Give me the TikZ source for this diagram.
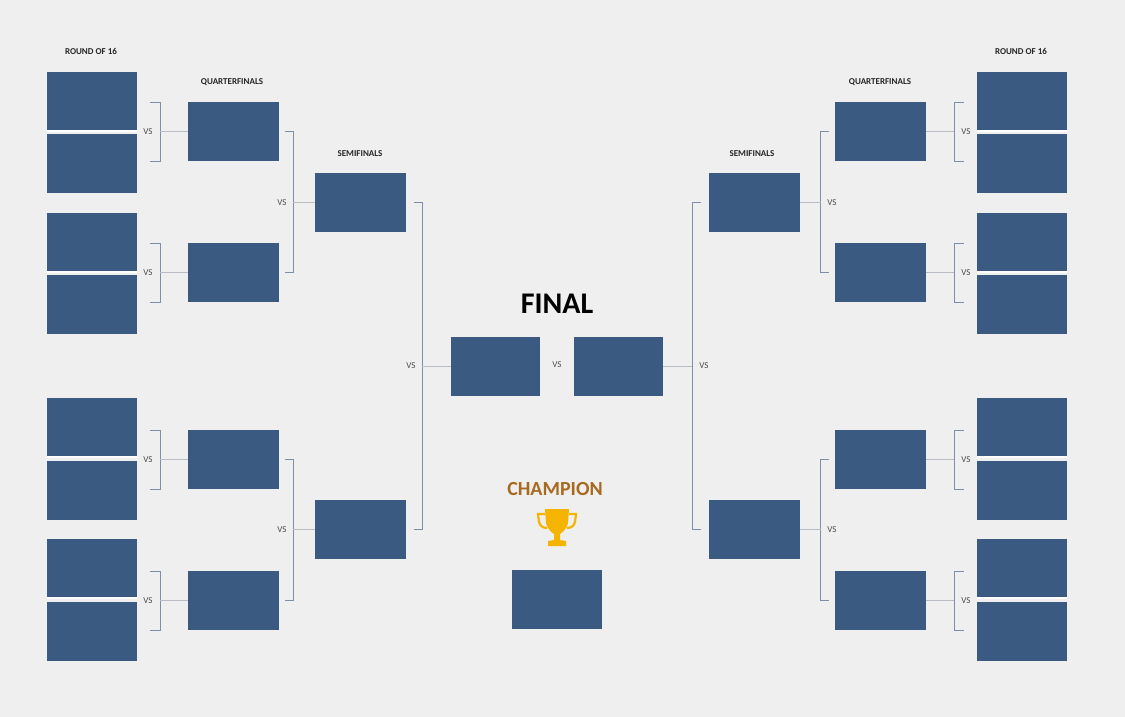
\documentclass[tikz,border=0pt]{standalone}
\usepackage{fontspec}
\setmainfont{Carlito}
\definecolor{bg}{HTML}{F0EFF0}
\definecolor{box}{HTML}{3A5A82}
\definecolor{brk}{HTML}{7D8EAA}
\definecolor{hl}{HTML}{B8BCC4}
\definecolor{champ}{HTML}{A86A20}
\definecolor{gold}{HTML}{F5B400}
\begin{document}
\begin{tikzpicture}[x=1pt,y=-1pt,
  team/.style={fill=box,draw=none,minimum width=90pt,minimum height=59pt,inner sep=0pt},
  vs/.style={font=\small,text=black!70,inner sep=1pt},
  hd/.style={font=\bfseries\small,text=black!85},
  br/.style={draw=brk,line width=1pt},
  hline/.style={draw=hl,line width=0.8pt}]
\fill[bg] (0,0) rectangle (1125,717);
\useasboundingbox (0,0) rectangle (1125,717);
% headers
\node[hd] (hL1) at (91,51) {ROUND OF 16};
\node[hd] (hL2) at (232,82) {QUARTERFINALS};
\node[hd] (hL3) at (360,154) {SEMIFINALS};
\node[hd] (hR1) at (1021,51) {ROUND OF 16};
\node[hd] (hR2) at (880,82) {QUARTERFINALS};
\node[hd] (hR3) at (752,154) {SEMIFINALS};
\node[font=\bfseries\fontsize{30}{32}\selectfont] (fin) at (557,304) {FINAL};
\node[font=\bfseries\fontsize{20}{22}\selectfont,text=champ] (ch) at (555,489) {CHAMPION};
% trophy
\begin{scope}[shift={(557,527)}]
\fill[gold] (-12,-18) -- (12,-18) -- (11,-4) .. controls (9,4) and (4,6) .. (3,7) -- (3,13) -- (9,14) -- (9,19) -- (-9,19) -- (-9,14) -- (-3,13) -- (-3,7) .. controls (-4,6) and (-9,4) .. (-11,-4) -- cycle;
\draw[gold,line width=2.2pt] (-12,-13) -- (-19,-13) -- (-18,-5) .. controls (-17,-1) and (-14,1) .. (-10,1);
\draw[gold,line width=2.2pt] (12,-13) -- (19,-13) -- (18,-5) .. controls (17,-1) and (14,1) .. (10,1);
\end{scope}
% left side boxes
\foreach \n/\y in {1/101.5,2/163.5,3/242.5,4/304.5,5/427.5,6/490.5,7/568.5,8/631.5}{
  \node[team] (L\n) at (92,\y) {};
  \node[team] (R\n) at (1022,\y) {};}
\foreach \n/\y in {1/131.5,2/272.5,3/459.5,4/600.5}{
  \node[team,minimum width=91pt] (LQ\n) at (233.5,\y) {};
  \node[team,minimum width=91pt] (RQ\n) at (880.5,\y) {};}
\node[team,minimum width=91pt] (LS1) at (360.5,202.5) {};
\node[team,minimum width=91pt] (LS2) at (360.5,529.5) {};
\node[team,minimum width=91pt] (RS1) at (754.5,202.5) {};
\node[team,minimum width=91pt] (RS2) at (754.5,529.5) {};
\node[team,minimum width=89pt] (F1) at (495.5,366.5) {};
\node[team,minimum width=89pt] (F2) at (618.5,366) {};
\node[team,minimum width=90pt] (CH) at (557,599.5) {};
% white separators
\foreach \n in {1,3,5,7}{
  \pgfmathtruncatemacro\m{\n+1}
  \draw[white,line width=1.5pt] (L\n.south west) -- (L\n.south east);
  \draw[white,line width=1.5pt] (R\n.south west) -- (R\n.south east);}
% R16 brackets left
\foreach \n/\y in {1/131.5,2/272.5,3/459.5,4/600.5}{
  \coordinate (lb\n) at (160,\y);
  \draw[br] (150,\y-29.5) -- (160,\y-29.5) -- (160,\y+29.5) -- (150,\y+29.5);
  \draw[hline] (lb\n) -- (LQ\n.west);
  \node[vs] (lv\n) at (148,\y) {VS};
  \coordinate (rb\n) at (954,\y);
  \draw[br] (964,\y-29.5) -- (954,\y-29.5) -- (954,\y+29.5) -- (964,\y+29.5);
  \draw[hline] (rb\n) -- (RQ\n.east);
  \node[vs] (rv\n) at (966,\y) {VS};}
% QF brackets
\foreach \s/\a/\b/\y in {1/1/2/202.5,2/3/4/529.5}{
  \draw[br] ([xshift=6pt]LQ\a.east) -- ++(8,0) |- ([xshift=6pt]LQ\b.east);
  \coordinate (lq\s) at (293,\y);
  \draw[hline] (lq\s) -- (LS\s.west);
  \node[vs] (lqv\s) at (282,\y) {VS};
  \draw[br] ([xshift=-6pt]RQ\a.west) -- ++(-8,0) |- ([xshift=-6pt]RQ\b.west);
  \coordinate (rq\s) at (821,\y);
  \draw[hline] (rq\s) -- (RS\s.east);
  \node[vs] (rqv\s) at (832,\y) {VS};}
% SF brackets
\draw[br] ([xshift=8pt]LS1.east) -- ++(8,0) |- ([xshift=8pt]LS2.east);
\coordinate (ls) at (422,366.5);
\draw[hline] (ls) -- (F1.west);
\node[vs] (lsv) at (411,366) {VS};
\draw[br] ([xshift=-8pt]RS1.west) -- ++(-8,0) |- ([xshift=-8pt]RS2.west);
\coordinate (rs) at (692,366);
\draw[hline] (rs) -- (F2.east);
\node[vs] (rsv) at (704,366) {VS};
\node[vs] (fv) at (557,365) {VS};
\end{tikzpicture}
\end{document}
